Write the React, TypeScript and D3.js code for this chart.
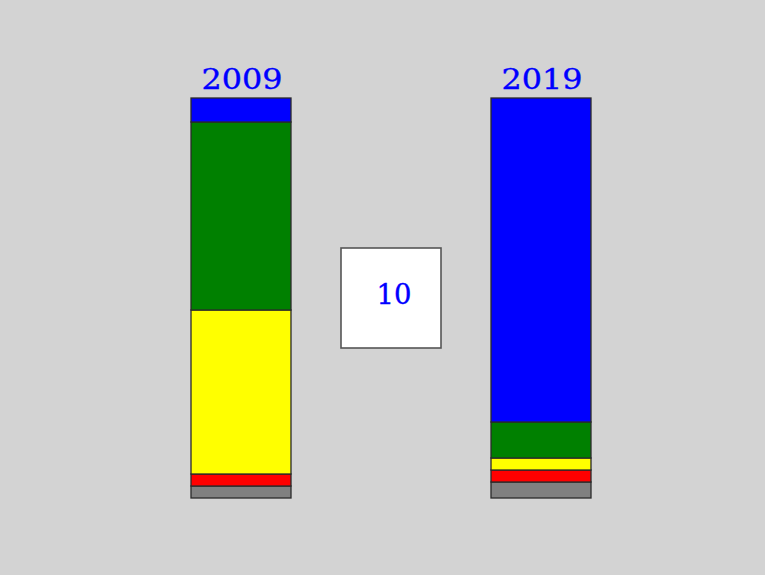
import { useRef, useEffect } from 'react';
import * as d3 from 'd3';

// Stacked shares (percent), bottom to top
const segments = ['grey', 'red', 'yellow', 'green', 'blue'];
const segmentColors = ['#808080', '#ff0000', '#ffff00', '#008000', '#0000ff'];
const years = ['2009', '2019'];
const values2009 = [3, 3, 41, 47, 6];
const values2019 = [4, 3, 3, 9, 81];
const gapLabel = '10';

const W = 765;
const H = 575;

export default function App() {
  const svgRef = useRef<SVGSVGElement>(null);

  useEffect(() => {
    document.body.style.margin = '0';
    document.body.style.background = '#d3d3d3';
    if (!svgRef.current) return;
    const svg = d3.select(svgRef.current);
    svg.selectAll('*').remove();

    svg.append('rect').attr('width', W).attr('height', H).attr('fill', '#d3d3d3');

    const rows = years.map((year, i) => {
      const vals = i === 0 ? values2009 : values2019;
      const row: Record<string, any> = { year };
      segments.forEach((s, j) => (row[s] = vals[j]));
      return row;
    });

    const slots = [years[0], 'gap', years[1]];
    const x = d3.scaleBand<string>().domain(slots).range([191, 591]).paddingInner(1 / 3).paddingOuter(0);
    const y = d3.scaleLinear().domain([0, 100]).range([498, 98]);
    const color = d3.scaleOrdinal<string, string>().domain(segments).range(segmentColors);

    const stacked = d3.stack<Record<string, any>>().keys(segments)(rows);

    svg.append('g')
      .selectAll('g')
      .data(stacked)
      .join('g')
      .attr('fill', (d) => color(d.key))
      .selectAll('rect')
      .data((d) => d)
      .join('rect')
      .attr('x', (d) => x(d.data.year)!)
      .attr('y', (d) => y(d[1]))
      .attr('width', x.bandwidth())
      .attr('height', (d) => y(d[0]) - y(d[1]))
      .attr('stroke', '#2a2a2a')
      .attr('stroke-width', 1.3);

    const textStyle = (sel: d3.Selection<any, any, any, any>) =>
      sel
        .attr('text-anchor', 'middle')
        .attr('font-family', '"DejaVu Serif", serif')
        .attr('font-size', 27)
        .attr('lengthAdjust', 'spacingAndGlyphs')
        .attr('fill', '#0000ff')
        .attr('stroke', '#0000ff')
        .attr('stroke-width', 0.35);

    // Year labels
    svg.append('g')
      .selectAll('text')
      .data(years)
      .join('text')
      .attr('x', (d) => x(d)! + x.bandwidth() / 2 + 1)
      .attr('y', 89)
      .attr('textLength', 81)
      .call(textStyle)
      .text((d) => d);

    // Middle box with the gap in years
    const bx = x('gap')!;
    const by = y(62.5);
    svg.append('rect')
      .attr('x', bx)
      .attr('y', by)
      .attr('width', x.bandwidth())
      .attr('height', x.bandwidth())
      .attr('fill', '#ffffff')
      .attr('stroke', '#555')
      .attr('stroke-width', 1.6);

    svg.append('text')
      .attr('x', bx + x.bandwidth() / 2 + 3)
      .attr('y', by + 55.5)
      .attr('textLength', 35)
      .call(textStyle)
      .text(gapLabel);
  }, []);

  return <svg ref={svgRef} width={W} height={H} style={{ display: 'block' }} />;
}
